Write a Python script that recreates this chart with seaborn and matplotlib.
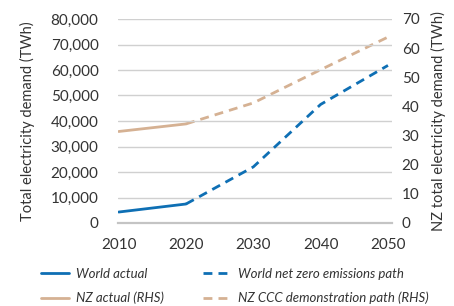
import numpy as np
import pandas as pd
import seaborn as sns
import matplotlib.pyplot as plt
from matplotlib.lines import Line2D

# values
world_actual_years = [2010, 2020]
world_actual = [4300, 7450]
world_nze_years = [2020, 2030, 2040, 2050]
world_nze = [7450, 22000, 46500, 61800]
nz_actual_years = [2010, 2020]
nz_actual = [31.4, 34.0]
nz_ccc_years = [2020, 2030, 2040, 2050]
nz_ccc = [34.0, 41.2, 52.6, 63.8]

x_ticks = [2010, 2020, 2030, 2040, 2050]
left_ticks = list(range(0, 80001, 10000))
right_ticks = list(range(0, 71, 10))

BLUE = '#0E6FB4'
TAN = '#D5B193'
TXT = '#333333'
GRID = '#d0d0d0'
DASH = (0, (3.2, 2.2))

sns.set_theme(style='white')
plt.rcParams['font.family'] = ['Lato', 'DejaVu Sans']

fig = plt.figure(figsize=(4.54, 3.06), dpi=100)
ax = fig.add_axes([118 / 454, 1 - 223 / 306, 274 / 454, 204 / 306])
ax2 = ax.twinx()

wa = pd.DataFrame({'year': world_actual_years, 'value': world_actual})
wn = pd.DataFrame({'year': world_nze_years, 'value': world_nze})
na = pd.DataFrame({'year': nz_actual_years, 'value': nz_actual})
nc = pd.DataFrame({'year': nz_ccc_years, 'value': nz_ccc})

sns.lineplot(data=na, x='year', y='value', ax=ax2, color=TAN, lw=2)
sns.lineplot(data=nc, x='year', y='value', ax=ax2, color=TAN, lw=2, linestyle=DASH)
sns.lineplot(data=wa, x='year', y='value', ax=ax, color=BLUE, lw=2)
sns.lineplot(data=wn, x='year', y='value', ax=ax, color=BLUE, lw=2, linestyle=DASH)

# world lines on top of NZ lines
ax.set_zorder(ax2.get_zorder() + 1)
ax.patch.set_visible(False)

ax.set_xlim(2009.9, 2050.6)
ax.set_ylim(0, 80000)
ax2.set_ylim(0, 70)
ax.set_xticks(x_ticks)
ax.set_yticks(left_ticks)
ax2.set_yticks(right_ticks)
ax.set_yticklabels([f'{v:,}' for v in left_ticks])
ax.yaxis.grid(True, color=GRID, lw=1)
ax2.grid(False)

for a in (ax, ax2):
    for s in a.spines.values():
        s.set_visible(False)
    a.tick_params(length=0, labelsize=11, labelcolor=TXT)
    a.set_xlabel('')
ax.spines['bottom'].set_visible(True)
ax.spines['bottom'].set_color('#c4c4c4')
ax.spines['bottom'].set_linewidth(1.6)
ax.tick_params(axis='x', pad=11)
ax.tick_params(axis='y', pad=14)
ax2.tick_params(axis='y', pad=7)

ax.set_ylabel('Total electricity demand (TWh)', fontsize=10.5, color=TXT, labelpad=11)
ax2.set_ylabel('NZ total electricity demand (TWh)', fontsize=10.5, color=TXT, labelpad=8)

handles = [
    Line2D([], [], color=BLUE, lw=2),
    Line2D([], [], color=TAN, lw=2),
    Line2D([], [], color=BLUE, lw=2, linestyle=DASH),
    Line2D([], [], color=TAN, lw=2, linestyle=DASH),
]
labels = ['World actual', 'NZ actual (RHS)', 'World net zero emissions path', 'NZ CCC demonstration path (RHS)']
fig.legend(handles, labels, ncol=2, loc='upper left', bbox_to_anchor=(29 / 454, 1 - 256 / 306),
           frameon=False, prop={'style': 'italic', 'size': 9.5}, labelcolor=TXT,
           handlelength=2.1, columnspacing=2.9, labelspacing=0.9, handletextpad=0.6)

fig.savefig('out.png', dpi=100)
